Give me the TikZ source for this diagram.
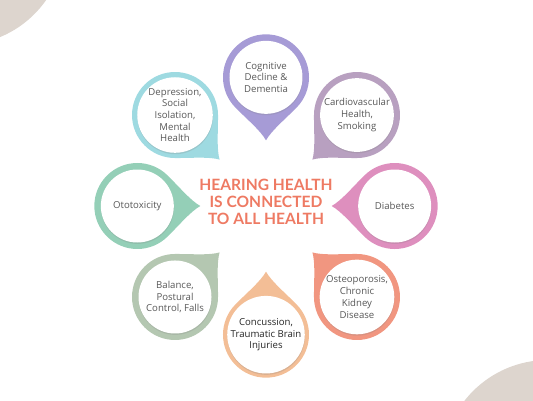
\documentclass[tikz,border=0pt]{standalone}
\usepackage{fontspec}
\setmainfont{Lato}
\newfontfamily\topicfont{Open Sans}
\usepackage{tikz}
\usetikzlibrary{shadows, backgrounds}
\definecolor{cognitive}{RGB}{166, 155, 214}
\definecolor{cardio}{RGB}{184, 160, 192}
\definecolor{diabetes}{RGB}{222, 143, 190}
\definecolor{osteo}{RGB}{241, 150, 128}
\definecolor{concussion}{RGB}{243, 190, 150}
\definecolor{balance}{RGB}{180, 199, 177}
\definecolor{ototox}{RGB}{148, 207, 183}
\definecolor{depression}{RGB}{158, 218, 225}
\definecolor{sand}{RGB}{221, 213, 206}
\definecolor{headline}{RGB}{238, 122, 99}
\definecolor{caption}{RGB}{88, 88, 88}

\begin{document}
\begin{tikzpicture}[
    topic/.style={circle, fill=white, minimum size=2.19cm, inner sep=0pt, align=center,
        font=\topicfont\fontsize{8.2}{10}\selectfont, text=caption,
        drop shadow={opacity=0.22, shadow xshift=0.2pt, shadow yshift=-1.2pt}},
    petal/.pic={\path[pic actions] (0.912,0.912) .. controls (1.25,0.58) and (1.6,0.16) .. (1.89,0)
        .. controls (1.6,-0.16) and (1.25,-0.58) .. (0.912,-0.912)
        arc[start angle=-45, end angle=-315, radius=1.29] -- cycle;}
]
    \useasboundingbox (-7.98,-5.82) rectangle (8.01,6.18);

    % Title
    \node[font=\fontsize{13.3}{14.5}\selectfont\bfseries, text=headline, align=center] (hub) at (0,0.12)
        {HEARING HEALTH\\IS CONNECTED\\TO ALL HEALTH};

    % Topics
    \node[topic] (cog) at (90:3.86) {Cognitive\\Decline \&\\Dementia};
    \node[topic] (cardio) at (45:3.86) {Cardiovascular\\Health,\\Smoking};
    \node[topic] (diab) at (0:3.86) {Diabetes};
    \node[topic] (osteo) at (-45:3.86) {Osteoporosis,\\Chronic\\Kidney\\Disease};
    \node[topic, text=black!85] (conc) at (-90:3.86) {Concussion,\\Traumatic Brain\\Injuries};
    \node[topic] (bal) at (-135:3.86) {Balance,\\Postural\\Control, Falls};
    \node[topic] (oto) at (180:3.86) {Ototoxicity};
    \node[topic] (dep) at (135:3.86) {Depression,\\Social\\Isolation,\\Mental\\Health};

    % Drops behind the topics
    \begin{scope}[on background layer]
        \fill[sand] (-9.18,7.98) circle (3.15);
        \fill[sand] (8.46,-7.8) circle (3.18);
        \pic[fill=cognitive, rotate=270] at (cog) {petal};
        \pic[fill=cardio, rotate=225] at (cardio) {petal};
        \pic[fill=diabetes, rotate=180] at (diab) {petal};
        \pic[fill=osteo, rotate=135] at (osteo) {petal};
        \pic[fill=concussion, rotate=90] at (conc) {petal};
        \pic[fill=balance, rotate=45] at (bal) {petal};
        \pic[fill=ototox, rotate=0] at (oto) {petal};
        \pic[fill=depression, rotate=-45] at (dep) {petal};
    \end{scope}
\end{tikzpicture}
\end{document}
